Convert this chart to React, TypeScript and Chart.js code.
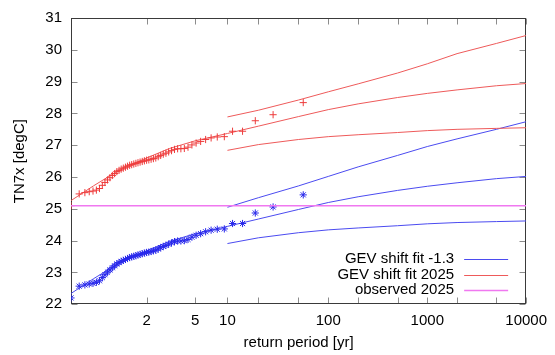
import React, { useEffect, useRef } from "react";
import { Chart, registerables } from "chart.js";

Chart.register(...registerables);

// Empirical return periods (plotting positions) of the 55 observed values
const returnPeriods = [
  1.018, 1.037, 1.057, 1.077, 1.098, 1.12, 1.143, 1.167, 1.191, 1.217,
  1.244, 1.273, 1.302, 1.333, 1.366, 1.4, 1.436, 1.474, 1.514, 1.556,
  1.6, 1.647, 1.697, 1.75, 1.806, 1.867, 1.931, 2, 2.074, 2.154,
  2.24, 2.333, 2.435, 2.545, 2.667, 2.8, 2.947, 3.111, 3.294, 3.5,
  3.733, 4, 4.308, 4.667, 5.091, 5.6, 6.222, 7, 8, 9.333,
  11.2, 14, 18.67, 28, 56,
];
// observations shifted to the -1.3 climate (blue asterisks)
const obsShifted = [
  22.2, 22.57, 22.61, 22.64, 22.66, 22.69, 22.74, 22.84, 22.93, 23.01,
  23.08, 23.15, 23.21, 23.27, 23.31, 23.35, 23.38, 23.41, 23.44, 23.47,
  23.49, 23.51, 23.53, 23.55, 23.57, 23.59, 23.61, 23.63, 23.64, 23.66,
  23.68, 23.7, 23.74, 23.78, 23.82, 23.85, 23.89, 23.93, 23.97, 23.99,
  23.99, 24.0, 24.04, 24.11, 24.17, 24.22, 24.28, 24.33, 24.36, 24.37,
  24.54, 24.54, 24.87, 25.06, 25.44,
];
// observations shifted to the 2025 climate (red crosses)
const obs2025 = [
  25.1, 25.47, 25.51, 25.54, 25.56, 25.59, 25.64, 25.74, 25.83, 25.91,
  25.98, 26.05, 26.11, 26.17, 26.21, 26.25, 26.28, 26.31, 26.34, 26.37,
  26.39, 26.41, 26.43, 26.45, 26.47, 26.49, 26.51, 26.53, 26.54, 26.56,
  26.58, 26.6, 26.64, 26.68, 26.72, 26.75, 26.79, 26.83, 26.87, 26.89,
  26.89, 26.9, 26.94, 27.01, 27.07, 27.12, 27.18, 27.23, 27.26, 27.27,
  27.44, 27.44, 27.77, 27.96, 28.34,
];

// central GEV fits
const fitPeriods = [1.018, 1.1, 1.25, 1.5, 2, 3, 5, 10, 20, 50, 100, 200, 500, 1000, 2000, 5000, 10000];
const fitShiftCentral = [22.34, 22.8, 23.13, 23.41, 23.68, 23.98, 24.22, 24.45, 24.68, 24.98, 25.2, 25.38, 25.58, 25.71, 25.82, 25.95, 26.02];
const fit2025Central = [25.26, 25.72, 26.05, 26.33, 26.6, 26.9, 27.14, 27.37, 27.6, 27.9, 28.12, 28.3, 28.5, 28.63, 28.74, 28.87, 28.94];

// confidence bounds
const ciPeriods = [10, 20, 50, 100, 200, 500, 1000, 2000, 5000, 10000];
const fitShiftUpper = [25.05, 25.35, 25.72, 26.02, 26.32, 26.68, 26.96, 27.2, 27.5, 27.74];
const fitShiftLower = [23.91, 24.09, 24.25, 24.34, 24.4, 24.47, 24.53, 24.57, 24.6, 24.62];
const fit2025Upper = [27.89, 28.1, 28.42, 28.68, 28.93, 29.27, 29.56, 29.88, 30.2, 30.45];
const fit2025Lower = [26.84, 27.02, 27.18, 27.27, 27.33, 27.4, 27.46, 27.5, 27.53, 27.55];

const observed2025Value = 25.1;

const tickPeriods = [2, 5, 10, 20, 50, 100, 200, 500, 1000, 2000, 5000, 10000];
const labelledPeriods = [2, 5, 10, 100, 1000, 10000];
const yMin = 22;
const yMax = 31;

const seriesLabels = ["GEV shift fit -1.3", "GEV shift fit 2025", "observed 2025"];

const BLUE_LINE = "rgb(75,75,240)";
const BLUE_PT = "rgb(40,40,235)";
const RED_LINE = "rgb(238,90,90)";
const RED_PT = "rgb(238,60,60)";
const MAGENTA = "rgb(240,120,240)";
const FONT = '"Liberation Sans", Arial, Helvetica, sans-serif';

const gumbel = (T: number) => -Math.log(-Math.log(1 - 1 / T));
const toPts = (ts: number[], vs: number[]) => ts.map((t, i) => ({ x: gumbel(t), y: vs[i] }));

const framePlugin = {
  id: "frameTicks",
  beforeDatasetsDraw(chart: any) {
    const { ctx, chartArea, scales } = chart;
    const left = Math.round(chartArea.left) + 0.5;
    const right = Math.round(chartArea.right) - 0.5;
    const top = Math.round(chartArea.top) + 0.5;
    const bottom = Math.round(chartArea.bottom) - 0.5;
    ctx.save();
    ctx.lineWidth = 1;
    ctx.strokeStyle = "#8c8c8c";
    ctx.beginPath();
    scales.x.ticks.forEach((t: any) => {
      const px = Math.round(scales.x.getPixelForValue(t.value)) + 0.5;
      ctx.moveTo(px, bottom);
      ctx.lineTo(px, bottom - 6);
      ctx.moveTo(px, top);
      ctx.lineTo(px, top + 6);
    });
    scales.y.ticks.forEach((t: any) => {
      const py = Math.round(scales.y.getPixelForValue(t.value)) + 0.5;
      ctx.moveTo(left, py);
      ctx.lineTo(left + 6, py);
      ctx.moveTo(right, py);
      ctx.lineTo(right - 6, py);
    });
    ctx.stroke();
    ctx.strokeStyle = "#3a3a3a";
    ctx.strokeRect(left, top, right - left, bottom - top);
    ctx.restore();
  },
};

const legendPlugin = {
  id: "gnuLegend",
  afterDraw(chart: any) {
    const { ctx, chartArea } = chart;
    const colors = [BLUE_LINE, RED_LINE, MAGENTA];
    const textRight = chartArea.right - 72;
    const sx0 = chartArea.right - 62;
    const sx1 = chartArea.right - 18;
    ctx.save();
    ctx.font = `15px ${FONT}`;
    ctx.textAlign = "right";
    ctx.textBaseline = "middle";
    seriesLabels.forEach((label, i) => {
      const yy = chartArea.bottom - 45 + i * 15.5;
      ctx.fillStyle = "#000";
      ctx.fillText(label, textRight, yy);
      ctx.strokeStyle = colors[i];
      ctx.lineWidth = i === 2 ? 1.5 : 1;
      ctx.beginPath();
      ctx.moveTo(sx0, Math.round(yy) + 0.5);
      ctx.lineTo(sx1, Math.round(yy) + 0.5);
      ctx.stroke();
    });
    ctx.restore();
  },
};

export default function App() {
  const ref = useRef<HTMLCanvasElement | null>(null);

  useEffect(() => {
    if (!ref.current) return;
    Chart.defaults.font.family = FONT;
    Chart.defaults.font.size = 15;
    Chart.defaults.color = "#000";

    const xMin = gumbel(returnPeriods[0]);
    const xMax = gumbel(tickPeriods[tickPeriods.length - 1]);

    const lineDs = (label: string, data: any[], color: string, order: number, width = 1) => ({
      label,
      data,
      showLine: true,
      borderColor: color,
      backgroundColor: color,
      borderWidth: width,
      pointRadius: 0,
      pointHoverRadius: 0,
      tension: 0,
      order,
    });

    const chart = new Chart(ref.current, {
      type: "scatter",
      data: {
        datasets: [
          lineDs(seriesLabels[2], [
            { x: xMin, y: observed2025Value },
            { x: xMax, y: observed2025Value },
          ], MAGENTA, 0, 1.5),
          {
            label: "obs 2025",
            data: toPts(returnPeriods, obs2025),
            showLine: false,
            pointStyle: "cross",
            pointRadius: 3.6,
            borderColor: RED_PT,
            backgroundColor: RED_PT,
            borderWidth: 1,
            order: 1,
          },
          {
            label: "obs shifted",
            data: toPts(returnPeriods, obsShifted),
            showLine: false,
            pointStyle: "star",
            pointRadius: 3.6,
            borderColor: BLUE_PT,
            backgroundColor: BLUE_PT,
            borderWidth: 1,
            order: 2,
          },
          lineDs(seriesLabels[1], toPts(fitPeriods, fit2025Central), RED_LINE, 3),
          lineDs("2025 upper", toPts(ciPeriods, fit2025Upper), RED_LINE, 4),
          lineDs("2025 lower", toPts(ciPeriods, fit2025Lower), RED_LINE, 5),
          lineDs(seriesLabels[0], toPts(fitPeriods, fitShiftCentral), BLUE_LINE, 6),
          lineDs("shift upper", toPts(ciPeriods, fitShiftUpper), BLUE_LINE, 7),
          lineDs("shift lower", toPts(ciPeriods, fitShiftLower), BLUE_LINE, 8),
        ],
      },
      options: {
        responsive: false,
        animation: false,
        events: [],
        layout: { padding: { left: 0, top: 14, right: 26.3, bottom: 0 } },
        plugins: {
          legend: { display: false },
          tooltip: { enabled: false },
          title: { display: false },
        },
        scales: {
          x: {
            type: "linear",
            min: xMin,
            max: xMax,
            grid: { display: false, drawTicks: false },
            border: { display: false },
            afterBuildTicks: (scale: any) => {
              scale.ticks = tickPeriods.map((t) => ({ value: gumbel(t) }));
            },
            afterFit: (scale: any) => {
              scale.height = 50.7;
            },
            ticks: {
              autoSkip: false,
              maxRotation: 0,
              minRotation: 0,
              padding: 8,
              font: { size: 15 },
              color: "#000",
              callback: (value: any) => {
                const p = tickPeriods.find((t) => Math.abs(gumbel(t) - Number(value)) < 1e-6);
                return p !== undefined && labelledPeriods.includes(p) ? String(p) : "";
              },
            },
            title: {
              display: true,
              text: "return period [yr]",
              font: { size: 15 },
              color: "#000",
              padding: { top: 0, bottom: 3 },
            },
          },
          y: {
            type: "linear",
            min: yMin,
            max: yMax,
            grid: { display: false, drawTicks: false },
            border: { display: false },
            afterFit: (scale: any) => {
              scale.width = 71;
            },
            ticks: {
              stepSize: 1,
              padding: 9,
              font: { size: 15 },
              color: "#000",
            },
            title: {
              display: true,
              text: "TN7x [degC]",
              font: { size: 15 },
              color: "#000",
              padding: { top: 11, bottom: 0 },
            },
          },
        },
      },
      plugins: [framePlugin, legendPlugin],
    });
    return () => chart.destroy();
  }, []);

  return (
    <div style={{ position: "fixed", left: 0, top: 0, width: 555, height: 355, background: "#fff" }}>
      <canvas ref={ref} width={555} height={355} />
    </div>
  );
}
